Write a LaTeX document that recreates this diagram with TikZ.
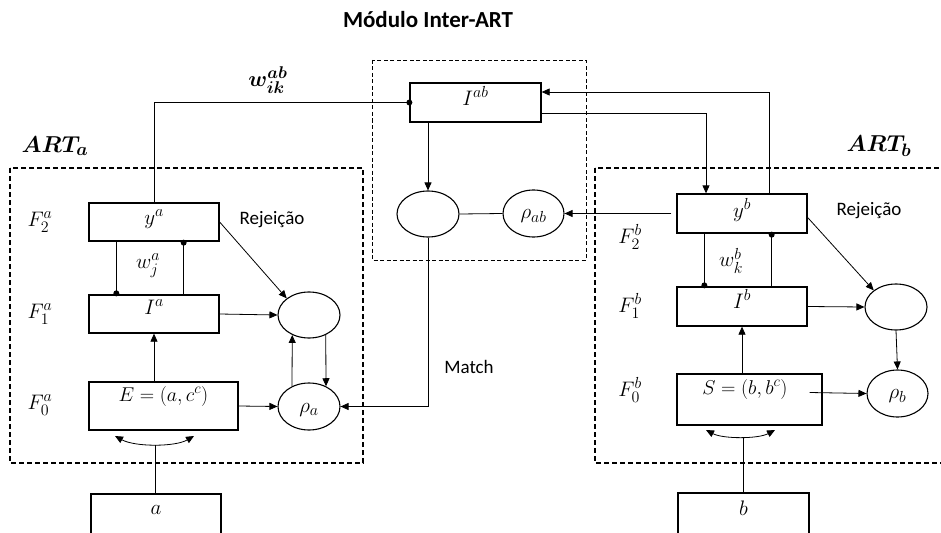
\documentclass[tikz,border=0pt]{standalone}
\usepackage{amsmath}
\usepackage{fix-cm}
\usepackage[no-math]{fontspec}
\setmainfont{Carlito}
\DeclareMathSizes{19}{19}{15}{11}
\DeclareMathSizes{20}{20}{15}{12}
\DeclareMathSizes{21}{21}{16}{12}
\DeclareMathSizes{22}{22}{17}{12}
\DeclareMathSizes{23}{23}{18}{13}
\usetikzlibrary{arrows.meta,shapes.geometric}
\begin{document}
\begin{tikzpicture}[x=1pt,y=-1pt,
  bx/.style={draw,line width=1.3pt,inner sep=0pt},
  el/.style={draw,ellipse,line width=1.1pt,inner sep=0pt},
  ln/.style={line width=0.8pt},
  arr/.style={ln,-{Triangle[length=8pt,width=7pt]}},
  darr/.style={ln,{Triangle[length=8pt,width=7pt]}-{Triangle[length=8pt,width=7pt]}},
  dotc/.style={circle,fill,inner sep=0pt,minimum size=6pt},
  mt/.style={font=\fontsize{21}{23}\selectfont},
  mte/.style={font=\fontsize{20}{22}\selectfont},
  bigm/.style={font=\fontsize{23}{25}\selectfont},
  tx/.style={font=\fontsize{19}{21}\selectfont},
  frame/.style={dash pattern=on 5pt off 3pt,line width=1.3pt},
  frameb/.style={dash pattern=on 4pt off 2.5pt,line width=0.8pt},
]
\useasboundingbox (0,0) rectangle (941,532);
\clip (0,0) rectangle (941,532);

% frames
\draw[frame] (10,168) rectangle (363,463);
\draw[frameb] (372,60) rectangle (586,260);
\draw[frame] (595,168) rectangle (960,463);

% titles
\node[font=\bfseries\fontsize{23}{25}\selectfont] (title) at (428,20) {Módulo Inter-ART};
\node[bigm] (arta) at (55,146) {$\boldsymbol{ART_a}$};
\node[bigm] (artb) at (879,146) {$\boldsymbol{ART_b}$};
\node[font=\fontsize{22}{24}\selectfont] (wab) at (268,80) {$\boldsymbol{w^{ab}_{ik}}$};

% left boxes
\node[bx,minimum width=130pt,minimum height=38pt] (ya) at (154,222) {};
\node[bx,minimum width=130pt,minimum height=38pt] (Ia) at (154,314) {};
\node[bx,minimum width=149pt,minimum height=48pt] (E) at (163.5,406) {};
\node[bx,minimum width=130pt,minimum height=50pt] (abox) at (156,519) {};
\node[el,minimum width=62pt,minimum height=46pt] (ellA) at (309,315) {};
\node[el,minimum width=62pt,minimum height=47pt] (rhoa) at (309,406.5) {};

\node[mt] (tya) at (154,219) {$y^a$};
\node[mt] (tIa) at (154,307) {$I^a$};
\node[mte] (tE) at (163.5,396) {$E=(a,c^c)$};
\node[mt] (ta) at (156,510) {$a$};
\node[mt] (trhoa) at (309,410) {$\rho_a$};
\node[mt] (F2a) at (40,222) {$F_2^a$};
\node[mt] (F1a) at (40,314) {$F_1^a$};
\node[mt] (F0a) at (40,405) {$F_0^a$};
\node[mt] (wja) at (148,266) {$w_j^a$};
\node[tx] (reja) at (272,220) {Rejeição};

% middle
\node[bx,minimum width=131pt,minimum height=39pt] (Iab) at (475.5,102.5) {};
\node[mt] (tIab) at (475.5,96) {$I^{ab}$};
\node[el,minimum width=62pt,minimum height=46pt] (midEll) at (428,214) {};
\node[el,minimum width=61pt,minimum height=47pt] (rhoab) at (533.5,213.5) {};
\node[mt] (trhoab) at (533.5,216) {$\rho_{ab}$};
\node[tx] (match) at (469,367) {Match};

% right boxes
\node[bx,minimum width=130pt,minimum height=39pt] (yb) at (742,213.5) {};
\node[bx,minimum width=130pt,minimum height=39pt] (Ib) at (742,306.5) {};
\node[bx,minimum width=145pt,minimum height=51pt] (S) at (749.5,399.5) {};
\node[bx,minimum width=131pt,minimum height=50pt] (bbox) at (743.5,518) {};
\node[el,minimum width=62pt,minimum height=46pt] (ellB) at (896,307) {};
\node[el,minimum width=61pt,minimum height=47pt] (rhob) at (897.5,393.5) {};

\node[mt] (tyb) at (742,210) {$y^b$};
\node[mt] (tIb) at (742,299) {$I^b$};
\node[mte] (tS) at (745,389) {$S=(b,b^c)$};
\node[mt] (tb) at (743.5,508) {$b$};
\node[mt] (trhob) at (897.5,396) {$\rho_b$};
\node[mt] (F2b) at (630,237) {$F_2^b$};
\node[mt] (F1b) at (630,306) {$F_1^b$};
\node[mt] (F0b) at (630,390) {$F_0^b$};
\node[mt] (wkb) at (731,261) {$w_k^b$};
\node[tx] (rejb) at (869,211) {Rejeição};

% ---- connectors left
\draw[ln] (ya.north) |- (Iab.west);
\node[dotc] at (Iab.west) {};
\draw[arr] (ya.east) -- (ellA.north west);
\draw[arr] (Ia.east) -- (ellA.west);
\draw[arr] (E.east) -- (rhoa.west);
\draw[arr] (rhoa.130) -- (ellA.230);
\draw[arr] (ellA.310) -- (rhoa.50);
\draw[arr] (Ia.south |- E.north) -- (Ia.south);
\draw[ln] ([xshift=28pt]ya.south west) -- ([xshift=28pt]Ia.north west);
\node[dotc] at ([xshift=28pt,yshift=1pt]Ia.north west) {};
\draw[ln] ([xshift=-36pt]ya.south east) -- ([xshift=-36pt]Ia.north east);
\node[dotc] at ([xshift=-36pt,yshift=-1pt]ya.south east) {};
\coordinate (arcA1) at (115,436);
\coordinate (arcA2) at (194,436);
\coordinate (arcAm) at (155,445);
\draw[darr] (arcA1) .. controls (135,447) and (175,447) .. (arcA2);
\draw[ln] (abox.north -| arcAm) -- (arcAm);

% ---- middle connectors
\draw[arr] (midEll.north |- Iab.south) -- (midEll.north);
\draw[ln] (midEll.east) -- (rhoab.west);
\draw[arr] ([xshift=-5pt]yb.west) -- (rhoab.east);
\draw[arr] ([yshift=9pt]Iab.south east) -| ([xshift=-36pt]yb.north);
\draw[arr] ([xshift=27pt]yb.north) |- ([yshift=10.5pt]Iab.east);
\draw[arr] (midEll.south) |- (rhoa.east);

% ---- right connectors
\draw[arr] ([yshift=-4pt]yb.east) -- (ellB.north west);
\draw[arr] (Ib.east) -- (ellB.west);
\draw[arr] (ellB.south) -- (rhob.north);
\draw[arr] ([shift={(-13pt,7pt)}]S.east) -- (rhob.west);
\draw[arr] (Ib.south |- S.north) -- (Ib.south);
\draw[ln] ([xshift=28pt]yb.south west) -- ([xshift=28pt]Ib.north west);
\node[dotc] at ([xshift=28pt,yshift=1pt]Ib.north west) {};
\draw[ln] ([xshift=-36pt]yb.south east) -- ([xshift=-36pt]Ib.north east);
\node[dotc] at ([xshift=-36pt,yshift=-1pt]yb.south east) {};
\coordinate (arcB1) at (706,430);
\coordinate (arcB2) at (775,430);
\coordinate (arcBm) at (743,437);
\draw[darr] (arcB1) .. controls (723,439) and (758,439) .. (arcB2);
\draw[ln] (bbox.north -| arcBm) -- (arcBm);
\end{tikzpicture}
\end{document}
